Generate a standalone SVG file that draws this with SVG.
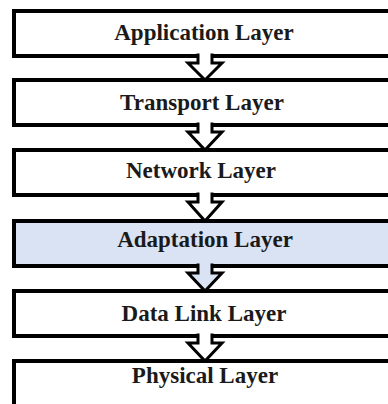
<svg xmlns="http://www.w3.org/2000/svg" width="388" height="404" viewBox="0 0 388 404">
<style>
.box{fill:#ffffff;stroke:#000000;stroke-width:4}
.blue{fill:#dae3f3}
.lbl{font-family:"Liberation Serif","Times New Roman",serif;font-weight:bold;font-size:23px;fill:#1a1a1a;text-anchor:middle}
.arr{stroke:#000000;stroke-width:3;stroke-linejoin:miter;fill:#ffffff}
</style>
<rect width="388" height="404" fill="#ffffff"/>
<g id="application"><rect class="box" x="14" y="11" width="400" height="45"/><text class="lbl" x="204" y="40">Application Layer</text></g>
<g id="transport"><rect class="box" x="14" y="80" width="400" height="45"/><text class="lbl" x="202" y="110">Transport Layer</text></g>
<g id="network"><rect class="box" x="14" y="150" width="400" height="45"/><text class="lbl" x="201" y="178">Network Layer</text></g>
<g id="adaptation"><rect class="box blue" x="14" y="221" width="400" height="45"/><text class="lbl" x="205" y="247">Adaptation Layer</text></g>
<g id="datalink"><rect class="box" x="14" y="291" width="400" height="45"/><text class="lbl" x="204" y="321">Data Link Layer</text></g>
<g id="physical"><rect class="box" x="14" y="361" width="400" height="80"/><text class="lbl" x="205" y="383">Physical Layer</text></g>
<g id="connectors">
<path class="arr" d="M198,53.5 L198,63 L188,63 L205,80 L222,63 L212,63 L212,53.5"/>
<path class="arr" d="M198,122.5 L198,132 L188,132 L205,150 L222,132 L212,132 L212,122.5"/>
<path class="arr" d="M198,192.5 L198,202 L188,202 L205,221 L222,202 L212,202 L212,192.5"/>
<path class="arr" style="fill:#dae3f3" d="M198,263.5 L198,273 L188,273 L205,291 L222,273 L212,273 L212,263.5"/>
<path class="arr" d="M198,333.5 L198,343 L188,343 L205,361 L222,343 L212,343 L212,333.5"/>
</g>
</svg>
